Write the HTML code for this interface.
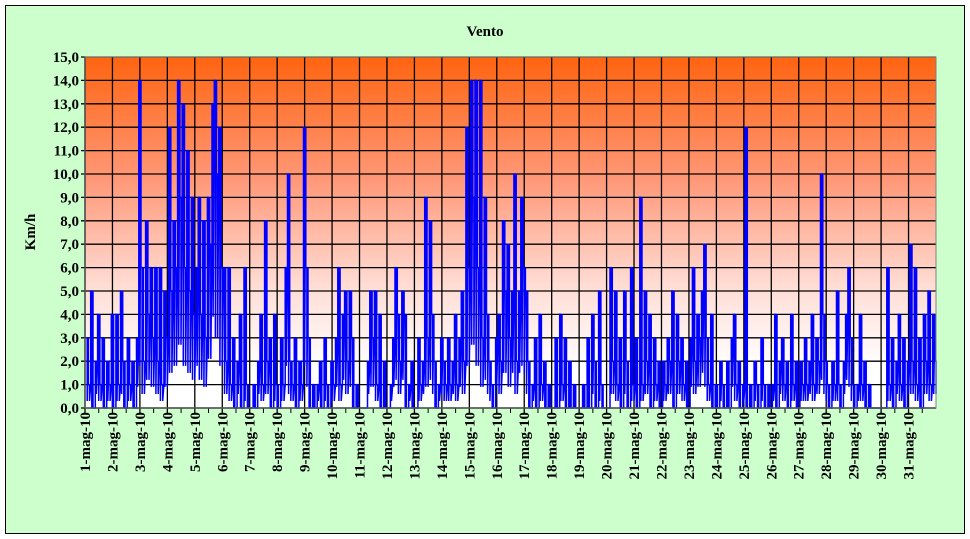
<!DOCTYPE html>
<html><head><meta charset="utf-8"><style>
body{margin:0;width:970px;height:539px;background:#fff;overflow:hidden}
svg{display:block}
text{font-family:"Liberation Serif",serif;font-weight:bold;fill:#000}
</style></head><body>
<svg id="chart" width="970" height="539" xmlns="http://www.w3.org/2000/svg">
<defs><linearGradient id="bg" x1="0" y1="0" x2="0" y2="1">
<stop offset="0" stop-color="#ff6410"/><stop offset="0.35" stop-color="#ff9878"/><stop offset="0.65" stop-color="#ffdcd4"/><stop offset="0.88" stop-color="#ffffff"/></linearGradient></defs>
<rect x="5.5" y="5.5" width="959" height="528" fill="#ccffcc" stroke="#000"/>
<text x="485" y="36" font-size="15" text-anchor="middle">Vento</text>
<text transform="translate(35,232) rotate(-90)" font-size="15" text-anchor="middle">Km/h</text>
<g id="plot"></g>
</svg>
<script>
const days=[];for(let d=1;d<=31;d++)days.push(d+"-mag-10");
const yTicks=[0,1,2,3,4,5,6,7,8,9,10,11,12,13,14,15];
const windSpeed=[
3,1,5,0,2,4,1,3,0,2,1,4,
0,4,1,5,2,0,3,1,2,0,3,14,
6,2,8,4,6,3,6,2,6,1,5,3,
12,5,8,6,14,9,13,6,11,5,9,4,
6,9,4,8,3,9,7,13,14,10,12,6,
6,2,6,1,3,0,2,4,0,6,1,0,
0,1,0,2,4,1,8,2,3,0,4,1,
0,3,1,6,10,2,1,3,0,2,1,12,
6,3,0,1,0,1,2,0,3,1,0,2,
1,3,6,1,4,5,2,5,3,0,1,0,
0,0,0,2,5,3,5,1,4,0,2,0,
0,1,3,6,4,2,5,4,0,1,2,0,
0,3,1,2,9,3,8,4,2,0,1,3,
2,1,3,1,2,4,1,3,5,2,12,6,
14,9,14,6,14,3,9,4,2,1,0,3,
4,2,8,5,7,3,5,10,2,5,9,6,
5,2,0,1,3,0,4,1,2,0,1,0,
0,3,0,4,1,3,0,2,0,1,0,0,
0,1,0,3,0,4,2,0,5,1,0,0,
0,6,2,5,1,3,0,5,2,0,6,1,
3,0,9,1,5,2,4,0,3,1,2,0,
2,1,3,2,5,0,4,2,3,1,2,0,
3,6,2,4,3,5,7,3,1,4,0,1,
0,2,1,0,2,0,3,4,1,2,0,1,
12,0,1,0,2,1,0,3,1,0,1,0,
1,4,0,2,3,1,2,0,4,1,2,0,
2,1,3,1,2,4,1,3,2,10,4,2,
1,0,2,1,5,1,0,2,4,6,3,1,
0,1,4,1,2,0,1,0,0,0,0,0,
0,0,6,1,3,0,2,4,1,3,0,2,
7,2,6,1,3,0,4,2,5,1,4,2];
const X0=85,X1=936,Y0=408,Y1=57,YMAX=15;
const NS="http://www.w3.org/2000/svg";
const g=document.getElementById('plot');
const yS=v=>Y0-(v/YMAX)*(Y0-Y1);
const dS=d=>X0+d*(X1-X0)/days.length;
const iS=i=>X0+(i+0.5)*(X1-X0)/windSpeed.length;
function mk(t,a){const e=document.createElementNS(NS,t);for(const k in a)e.setAttribute(k,a[k]);g.appendChild(e);return e;}
const bg=mk('rect',{x:X0,y:Y1,width:X1-X0,height:Y0-Y1,fill:'url(#bg)'});


yTicks.forEach(v=>{
 const l=mk('line',{x1:X0-4,x2:X1,y1:yS(v),y2:yS(v),stroke:'#000','stroke-width':1.3});
 
 
 const t=mk('text',{x:X0-6,y:yS(v)+5,'font-size':15,'text-anchor':'end'});
 t.textContent=v.toFixed(1).replace('.',',');
 
 
});
days.forEach((d,i)=>{
 const x=dS(i);
 const l=mk('line',{x1:x,x2:x,y1:Y1,y2:Y0+5,stroke:'#000','stroke-width':1.3});
 
 
 const h=(dS(i)+dS(i+1))/2;
 const m=mk('line',{x1:h,x2:h,y1:Y0,y2:Y0+5,stroke:'#000','stroke-width':1});
 
 
 const t=mk('text',{transform:`translate(${x+5},412) rotate(-90)`,'font-size':15,'text-anchor':'end'});
 t.textContent=d;
 
 
});
let pts=[];
windSpeed.forEach((v,i)=>{
 const x=iS(i).toFixed(1);
 if(i>0)pts.push(x+','+yS(windSpeed[i-1]).toFixed(1));
 pts.push(x+','+yS(v).toFixed(1));
 pts.push((iS(i)+1.1).toFixed(1)+','+yS(v).toFixed(1));
 pts.push((iS(i)+1.1).toFixed(1)+','+yS(Math.min(v,windSpeed[i+1]===undefined?v:windSpeed[i+1])*0.3).toFixed(1));
});
const pl=mk('polyline',{points:pts.join(' '),fill:'none',stroke:'#0000ff','stroke-width':1.5});


const ax=mk('line',{x1:X0,x2:X1,y1:Y0,y2:Y0,stroke:'#000','stroke-width':1.5});


const ay=mk('line',{x1:X0,x2:X0,y1:Y1,y2:Y0,stroke:'#000','stroke-width':1.5});


const br=mk('rect',{x:X0,y:Y1,width:X1-X0,height:Y0-Y1,fill:'none',stroke:'#808080','stroke-width':1});


</script>
</body></html>
